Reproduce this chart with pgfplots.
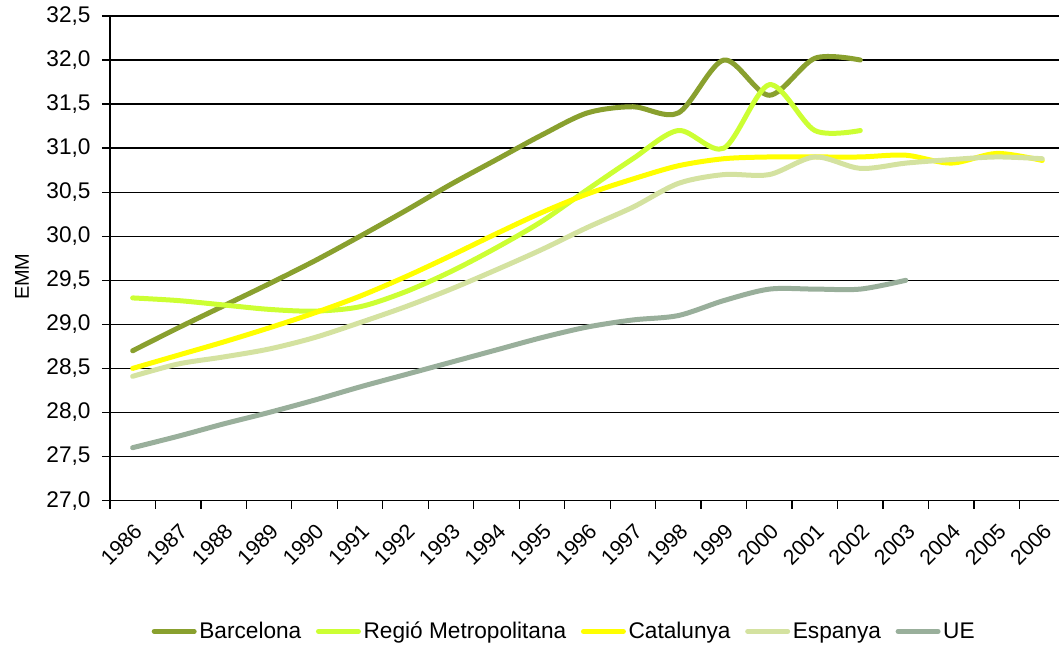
\documentclass[border=0pt]{standalone}
\usepackage{pgfplots}
\pgfplotsset{compat=1.18}
\usepackage{fontspec}
\setmainfont{Liberation Sans}
\definecolor{cBar}{RGB}{137,160,46}
\definecolor{cReg}{RGB}{204,255,51}
\definecolor{cCat}{RGB}{255,255,0}
\definecolor{cEsp}{RGB}{212,226,160}
\definecolor{cUE}{RGB}{153,175,155}
\begin{document}
\begin{tikzpicture}
\begin{axis}[
  name=ax,
  scale only axis,
  width=712.5pt, height=363.75pt,
  xmin=-0.5, xmax=20.37,
  ymin=27, ymax=32.5,
  axis lines*=left,
  axis line style={black, line width=1.4pt},
  tick align=outside,
  xtick={0,...,20},
  xticklabels={1986,1987,1988,1989,1990,1991,1992,1993,1994,1995,1996,1997,1998,1999,2000,2001,2002,2003,2004,2005,2006},
  major x tick style={draw=none},
  minor xtick={-0.5,0.5,...,19.5},
  minor tick length=6pt,
  minor x tick style={black, line width=1pt},
  ytick={27,27.5,...,32.5},
  major tick length=6pt,
  y tick style={black, line width=1pt},
  ymajorgrids,
  grid style={black, line width=1pt},
  yticklabel style={font=\fontsize{17}{20}\selectfont, xshift=-5pt, /pgf/number format/.cd, fixed, fixed zerofill, precision=1, use comma, assume math mode=true},
  xticklabel style={font=\fontsize{16}{19}\selectfont, yshift=-8.5pt, xshift=0pt, rotate=45, anchor=north east, inner sep=1pt},
  ylabel={EMM},
  ylabel style={at={(axis description cs:-0.0926,0.462)}, anchor=center, font=\fontsize{15}{18}\selectfont},
  legend style={at={(axis description cs:0.479,-0.27)}, anchor=center, legend columns=-1, draw=none, font=\fontsize{17}{20}\selectfont, /tikz/every even column/.append style={column sep=9pt}},
  legend image code/.code={\draw[#1, line cap=round] (0pt,0pt) -- (30pt,0pt);},
  every axis plot/.append style={line width=3.75pt, line cap=round, smooth, no markers},
]
\addplot[cBar] coordinates {(0,28.7)(1,28.96)(2,29.21)(3,29.46)(4,29.72)(5,30.0)(6,30.29)(7,30.59)(8,30.87)(9,31.15)(10,31.4)(11,31.47)(12,31.4)(13,32.0)(14,31.6)(15,32.02)(16,32.0)};
\addlegendentry{Barcelona}
\addplot[cReg] coordinates {(0,29.3)(1,29.27)(2,29.22)(3,29.17)(4,29.15)(5,29.2)(6,29.37)(7,29.6)(8,29.87)(9,30.17)(10,30.53)(11,30.88)(12,31.2)(13,31.0)(14,31.72)(15,31.2)(16,31.2)};
\addlegendentry{Regió Metropolitana}
\addplot[cCat] coordinates {(0,28.5)(1,28.65)(2,28.8)(3,28.96)(4,29.13)(5,29.32)(6,29.54)(7,29.78)(8,30.03)(9,30.27)(10,30.48)(11,30.65)(12,30.8)(13,30.88)(14,30.9)(15,30.9)(16,30.9)(17,30.92)(18,30.83)(19,30.94)(20,30.86)};
\addlegendentry{Catalunya}
\addplot[cEsp] coordinates {(0,28.41)(1,28.55)(2,28.63)(3,28.72)(4,28.85)(5,29.02)(6,29.2)(7,29.4)(8,29.62)(9,29.85)(10,30.1)(11,30.33)(12,30.6)(13,30.7)(14,30.7)(15,30.9)(16,30.77)(17,30.83)(18,30.87)(19,30.9)(20,30.88)};
\addlegendentry{Espanya}
\addplot[cUE] coordinates {(0,27.6)(1,27.73)(2,27.87)(3,28.0)(4,28.14)(5,28.29)(6,28.43)(7,28.57)(8,28.71)(9,28.85)(10,28.97)(11,29.05)(12,29.1)(13,29.27)(14,29.4)(15,29.4)(16,29.4)(17,29.5)};
\addlegendentry{UE}
\end{axis}
\path (-82.5pt,-108pt) rectangle (712.5pt,375.75pt);
\end{tikzpicture}
\end{document}
